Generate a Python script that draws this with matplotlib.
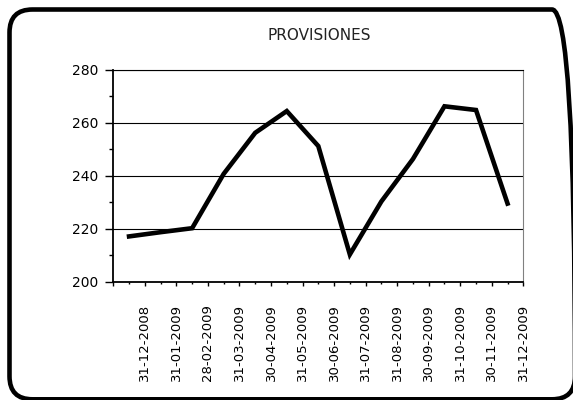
import matplotlib
matplotlib.use("Agg")
import matplotlib.pyplot as plt
from matplotlib.patches import FancyBboxPatch
from matplotlib.ticker import MultipleLocator, FixedLocator
import numpy as np

# month-end dates and provision values
fechas = ["31-12-2008", "31-01-2009", "28-02-2009", "31-03-2009", "30-04-2009",
          "31-05-2009", "30-06-2009", "31-07-2009", "31-08-2009", "30-09-2009",
          "31-10-2009", "30-11-2009", "31-12-2009"]
provisiones = [217.2, 218.8, 220.3, 240.8, 256.3, 264.5, 251.3,
               210.4, 230.4, 246.4, 266.3, 264.9, 229.6]

plt.rcParams['font.family'] = ['DejaVu Sans']

fig = plt.figure(figsize=(5.73, 4.0), dpi=100)
ax = fig.add_axes([0.1977, 0.295, 0.7156, 0.53])

n = len(provisiones)
xs = np.arange(n) + 0.5
ax.plot(xs, provisiones, color='black', lw=3.3, solid_joinstyle='miter')

ax.set_xlim(0, n)
ax.set_ylim(200, 280)

# y axis
ax.yaxis.set_major_locator(MultipleLocator(20))
ax.yaxis.set_minor_locator(MultipleLocator(10))
ax.tick_params(axis='y', which='major', direction='out', length=5.8, width=1,
               pad=5, labelsize=10)
ax.tick_params(axis='y', which='minor', direction='out', length=2.9, width=1)
ax.grid(axis='y', which='major', color='black', lw=0.8)

# x axis: labels on the major ticks, points between them
ax.xaxis.set_major_locator(FixedLocator(np.arange(n + 1)))
ax.xaxis.set_minor_locator(FixedLocator(xs))
ax.set_xticklabels([""] + fechas, rotation=90)
ax.tick_params(axis='x', which='major', direction='out', length=3, width=1,
               pad=13, labelsize=9.5)
ax.tick_params(axis='x', which='minor', direction='out', length=1.7, width=1)

ax.spines['left'].set_linewidth(1.3)
ax.spines['bottom'].set_linewidth(1.3)
ax.spines['top'].set_linewidth(0.8)
ax.spines['right'].set_color('#808080')
ax.spines['right'].set_linewidth(0.8)
ax.set_axisbelow(True)

fig.text(0.557, 0.91, "PROVISIONES", ha='center', va='center', fontsize=11,
         color='#222222')

# rounded frame around the whole chart (runs past the right/bottom edge)
frame = FancyBboxPatch((0.095, 0.007), 5.655, 3.898,
                       boxstyle="round,pad=0,rounding_size=0.23",
                       transform=fig.dpi_scale_trans, fill=False,
                       edgecolor='black', lw=3.3, clip_on=False)
fig.add_artist(frame)

fig.savefig("out.png", dpi=100)
